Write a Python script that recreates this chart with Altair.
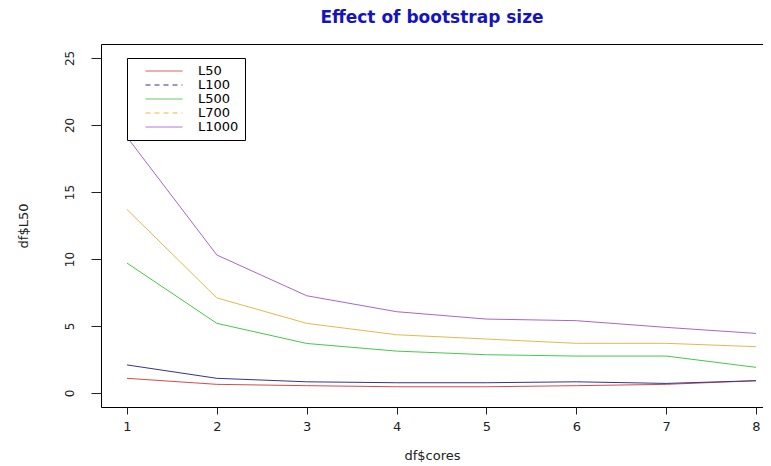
import altair as alt
import pandas as pd

cores = [1, 2, 3, 4, 5, 6, 7, 8]
L50 = [1.1, 0.65, 0.55, 0.47, 0.47, 0.55, 0.65, 0.92]
L100 = [2.1, 1.1, 0.84, 0.77, 0.77, 0.84, 0.72, 0.92]
L500 = [9.7, 5.2, 3.7, 3.13, 2.86, 2.76, 2.76, 1.92]
L700 = [13.7, 7.1, 5.2, 4.35, 4.03, 3.71, 3.71, 3.46]
L1000 = [19.1, 10.3, 7.26, 6.07, 5.52, 5.40, 4.90, 4.45]

series_names = ["L50", "L100", "L500", "L700", "L1000"]
series_vals = [L50, L100, L500, L700, L1000]
series_colors = ["#d84a4a", "#34348a", "#48c848", "#e6b84a", "#a866c8"]
series_dash = [[1, 0], [5, 4], [1, 0], [5, 4], [1, 0]]

rows = []
for name, vals in zip(series_names, series_vals):
    for c, v in zip(cores, vals):
        rows.append({"cores": c, "value": v, "series": name})
df = pd.DataFrame(rows)

font = "DejaVu Sans"

x = alt.X("cores:Q",
          scale=alt.Scale(domain=[0.711, 8.078], nice=False, zero=False),
          axis=alt.Axis(values=cores, title="df$cores", domain=False, grid=False,
                        tickSize=7, labelPadding=6, titlePadding=16, format="d"))
y = alt.Y("value:Q",
          scale=alt.Scale(domain=[-1.04, 26.04], nice=False, zero=False),
          axis=alt.Axis(values=[0, 5, 10, 15, 20, 25], title="df$L50", domain=False,
                        grid=False, tickSize=10, labelAngle=270, labelPadding=15,
                        labelFontSize=12, titlePadding=33))

color_scale = alt.Scale(domain=series_names, range=series_colors)

lines = alt.Chart(df).mark_line(strokeWidth=1, clip=True).encode(
    x=x, y=y,
    color=alt.Color("series:N", scale=color_scale, legend=None),
    detail="series:N",
)

legend_layer = alt.Chart(df).mark_line(strokeWidth=1, strokeOpacity=0).encode(
    x=x, y=y,
    color=alt.Color("series:N", scale=color_scale,
                    legend=alt.Legend(title=None, orient="none", legendX=26, legendY=14,
                                      symbolType="stroke", symbolSize=1369,
                                      symbolStrokeWidth=1, symbolOffset=12,
                                      labelFontSize=13, labelFont=font,
                                      fillColor="white", strokeColor="black",
                                      padding=6, rowPadding=0, clipHeight=14,
                                      labelOffset=15)),
    strokeDash=alt.StrokeDash("series:N",
                              scale=alt.Scale(domain=series_names, range=series_dash),
                              legend=None),
)

chart = alt.layer(legend_layer, lines).properties(
    width=662, height=363,
    autosize=alt.AutoSizeParams(type="none"),
    padding={"left": 93, "top": 36, "right": 0, "bottom": 58},
    title=alt.TitleParams("Effect of bootstrap size", color="#1414c0", font=font,
                          fontSize=17, fontWeight="bold", anchor="middle", offset=17),
).configure_view(stroke="black", strokeWidth=1).configure_axis(
    labelFont=font, titleFont=font, labelFontSize=13, titleFontSize=13,
    labelColor="#222222", titleColor="#222222", tickColor="#222222",
    titleFontWeight="normal",
)

chart.save("out.html", embed_options={"renderer": "svg", "actions": False})
